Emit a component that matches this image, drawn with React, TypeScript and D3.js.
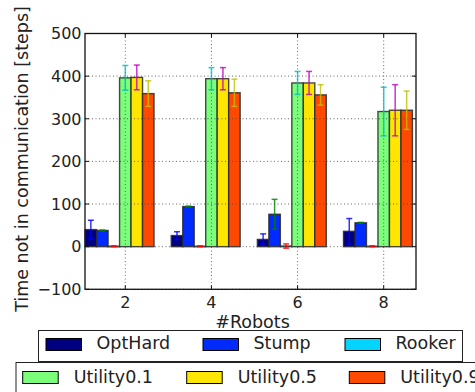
import React from "react";
import * as d3 from "d3";

// Number of robots on the x axis
const robots = [2, 4, 6, 8];

// Mean time not in communication, one array per strategy, with std errors
const optHard = [40, 26, 17, 36];
const optHardErr = [22, 9, 13, 30];
const stump = [38, 94, 76, 56];
const stumpErr = [1, 1, 35, 1];
const rooker = [1, 1, 1.5, 1];
const rookerErr = [1, 1, 5, 1];
const utility01 = [396, 394, 384, 317];
const utility01Err = [29, 26, 27, 57];
const utility05 = [397, 394, 384, 320];
const utility05Err = [29, 26, 27, 60];
const utility09 = [359, 361, 356, 320];
const utility09Err = [30, 32, 24, 45];

const seriesNames = ["OptHard", "Stump", "Rooker", "Utility0.1", "Utility0.5", "Utility0.9"];
const seriesValues = [optHard, stump, rooker, utility01, utility05, utility09];
const seriesErrors = [optHardErr, stumpErr, rookerErr, utility01Err, utility05Err, utility09Err];
const barColors = ["#000080", "#002aff", "#00d4ff", "#7bff7b", "#ffe600", "#ff4800"];
const errColors = ["#0000ff", "#008000", "#ff0000", "#00bfbf", "#bf00bf", "#bfbf00"];

const yTicks = [-100, 0, 100, 200, 300, 400, 500];
const xTicks = [2, 4, 6, 8];

const W = 475;
const H = 392;
const plot = { left: 85, right: 416, top: 33.5, bottom: 289.3 };
const barW = 0.8 / 3;
const FONT = "DejaVu Sans, sans-serif";

export default function App() {
  const x = d3.scaleLinear().domain([1.064, 8.75]).range([plot.left, plot.right]);
  const y = d3.scaleLinear().domain([-100, 500]).range([plot.bottom, plot.top]);
  const bw = x(barW) - x(0);

  const bars: JSX.Element[] = [];
  const errs: JSX.Element[] = [];
  seriesValues.forEach((vals, si) => {
    vals.forEach((v, gi) => {
      const left = x(robots[gi] + (si - 3.5) * barW);
      const top = y(Math.max(v, 0));
      const h = Math.abs(y(v) - y(0));
      bars.push(
        <rect
          key={`b${si}-${gi}`}
          x={left}
          y={top}
          width={bw}
          height={Math.max(h, 0.5)}
          fill={barColors[si]}
          stroke="#2a2a2a"
          strokeOpacity={0.85}
          strokeWidth={1.4}
        />
      );
      const cx = left + bw / 2;
      const e = seriesErrors[si][gi];
      const y1 = y(v + e);
      const y2 = y(v - e);
      errs.push(
        <g key={`e${si}-${gi}`} stroke={errColors[si]} strokeWidth={1.5} strokeOpacity={0.8}>
          <line x1={cx} x2={cx} y1={y1} y2={y2} />
          <line x1={cx - 3} x2={cx + 3} y1={y1} y2={y1} />
          <line x1={cx - 3} x2={cx + 3} y1={y2} y2={y2} />
        </g>
      );
    });
  });

  const legend1 = seriesNames.slice(0, 3);
  const legend1Pos = [46, 203, 345];
  const legend2 = seriesNames.slice(3);
  const legend2Pos = [22.7, 186.7, 349.3];

  return (
    <svg
      width={W}
      height={H}
      style={{ position: "absolute", left: 0, top: 0, background: "#fff" }}
      fontFamily={FONT}
    >
      <rect x={0} y={0} width={W} height={H} fill="#fff" />
      {bars}
      {/* dotted grid on top of the bars */}
      <g stroke="#444" strokeWidth={0.8} strokeDasharray="1,2.5">
        {yTicks.map((t) => (
          <line key={`gy${t}`} x1={plot.left} x2={plot.right} y1={y(t)} y2={y(t)} />
        ))}
        {xTicks.map((t) => (
          <line key={`gx${t}`} x1={x(t)} x2={x(t)} y1={plot.top} y2={plot.bottom} />
        ))}
      </g>
      {errs}
      {/* inward ticks on all four sides */}
      <g stroke="#111" strokeWidth={1}>
        {yTicks.map((t) => (
          <g key={`ty${t}`}>
            <line x1={plot.left} x2={plot.left + 4} y1={y(t)} y2={y(t)} />
            <line x1={plot.right - 4} x2={plot.right} y1={y(t)} y2={y(t)} />
          </g>
        ))}
        {xTicks.map((t) => (
          <g key={`tx${t}`}>
            <line x1={x(t)} x2={x(t)} y1={plot.bottom} y2={plot.bottom - 4} />
            <line x1={x(t)} x2={x(t)} y1={plot.top} y2={plot.top + 4} />
          </g>
        ))}
      </g>
      <rect
        x={plot.left}
        y={plot.top}
        width={plot.right - plot.left}
        height={plot.bottom - plot.top}
        fill="none"
        stroke="#111"
        strokeWidth={1.3}
      />
      {/* tick labels */}
      <g fontSize={16} fill="#222">
        {yTicks.map((t) => (
          <text key={`ly${t}`} x={plot.left - 3.5} y={y(t) + 5.8} textAnchor="end">
            {t < 0 ? `\u2212${Math.abs(t)}` : `${t}`}
          </text>
        ))}
        {xTicks.map((t) => (
          <text key={`lx${t}`} x={x(t)} y={308} textAnchor="middle">
            {t}
          </text>
        ))}
      </g>
      <text x={(plot.left + plot.right) / 2 + 2} y={327.5} textAnchor="middle" fontSize={17.5} fill="#222">
        #Robots
      </text>
      <text
        transform={`translate(28, 159) rotate(-90)`}
        textAnchor="middle"
        fontSize={17.5}
        fill="#222"
      >
        Time not in communication [steps]
      </text>
      {/* first legend */}
      <rect x={38.5} y={330.5} width={424} height={31} fill="#fff" stroke="#222" strokeWidth={1} />
      {legend1.map((name, i) => (
        <g key={name}>
          <rect x={legend1Pos[i]} y={338.5} width={35.5} height={12} fill={barColors[i]} stroke="#000" strokeWidth={1} />
          <text x={legend1Pos[i] + 50.5} y={349.3} fontSize={17.5} fill="#222">
            {name}
          </text>
        </g>
      ))}
      {/* second legend */}
      <rect x={16} y={362.5} width={476} height={32} fill="#fff" stroke="#222" strokeWidth={1} />
      {legend2.map((name, i) => (
        <g key={name}>
          <rect x={legend2Pos[i]} y={371.5} width={35.5} height={12} fill={barColors[i + 3]} stroke="#000" strokeWidth={1} />
          <text x={legend2Pos[i] + 51} y={383.3} fontSize={17.5} fill="#222">
            {name}
          </text>
        </g>
      ))}
    </svg>
  );
}
